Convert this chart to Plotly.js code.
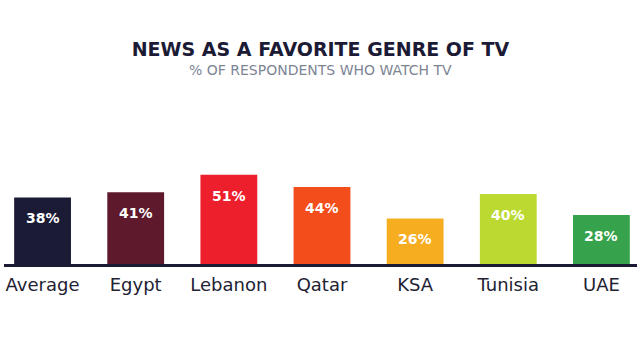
<!DOCTYPE html>
<html>
<head>
<meta charset="utf-8">
<script src="https://cdn.plot.ly/plotly-3.0.1.min.js"></script>
<style>html,body{margin:0;padding:0;background:#fff;}#chart{width:640px;height:360px;}</style>
</head>
<body>
<div id="chart"></div>
<script>
const categories = ["Average", "Egypt", "Lebanon", "Qatar", "KSA", "Tunisia", "UAE"];
const values = [38, 41, 51, 44, 26, 40, 28];
const valueLabels = ["38%", "41%", "51%", "44%", "26%", "40%", "28%"];
const barColors = ["#1c1b36", "#5e1a2c", "#ee1f2d", "#f24d1b", "#f7ad20", "#bcd932", "#36a24b"];
const titleText = "NEWS AS A FAVORITE GENRE OF TV";
const subtitleText = "% OF RESPONDENTS WHO WATCH TV";

const trace = {
  type: "bar",
  x: categories,
  y: values,
  marker: {color: barColors, line: {width: 0}},
  hoverinfo: "none"
};

const annotations = categories.map((c, i) => ({
  x: c, y: values[i], xref: "x", yref: "y",
  text: "<b>" + valueLabels[i] + "</b>",
  showarrow: false, yanchor: "top", yshift: -11,
  font: {family: "DejaVu Sans", size: 14, color: "#ffffff"}
}));
annotations.push({
  text: subtitleText, xref: "paper", yref: "paper", x: 0.5, y: 1.18,
  xanchor: "center", yanchor: "middle", showarrow: false,
  font: {family: "DejaVu Sans", size: 14, color: "#7d8494"}
});

const layout = {
  width: 640, height: 360,
  margin: {l: 4, r: 3, t: 100, b: 96},
  paper_bgcolor: "#ffffff", plot_bgcolor: "#ffffff",
  showlegend: false,
  bargap: 0.39,
  title: {
    text: "<b>" + titleText + "</b>",
    x: 0.5, xanchor: "center", xref: "paper",
    y: 1 - 49/360, yanchor: "middle", yref: "container",
    font: {family: "DejaVu Sans", size: 19, color: "#1c1b36"}
  },
  xaxis: {
    type: "category",
    range: [-0.414, 6.382],
    showline: true, linecolor: "#1c1b36", linewidth: 2.5,
    showgrid: false, zeroline: false,
    ticks: "outside", ticklen: 3, tickcolor: "rgba(0,0,0,0)",
    tickfont: {family: "DejaVu Sans", size: 18, color: "#222233"},
    fixedrange: true
  },
  yaxis: {
    range: [0, 93.7],
    visible: false, showgrid: false, zeroline: false,
    fixedrange: true
  },
  annotations: annotations
};

Plotly.newPlot("chart", [trace], layout, {displayModeBar: false, staticPlot: true});
</script>
</body>
</html>
